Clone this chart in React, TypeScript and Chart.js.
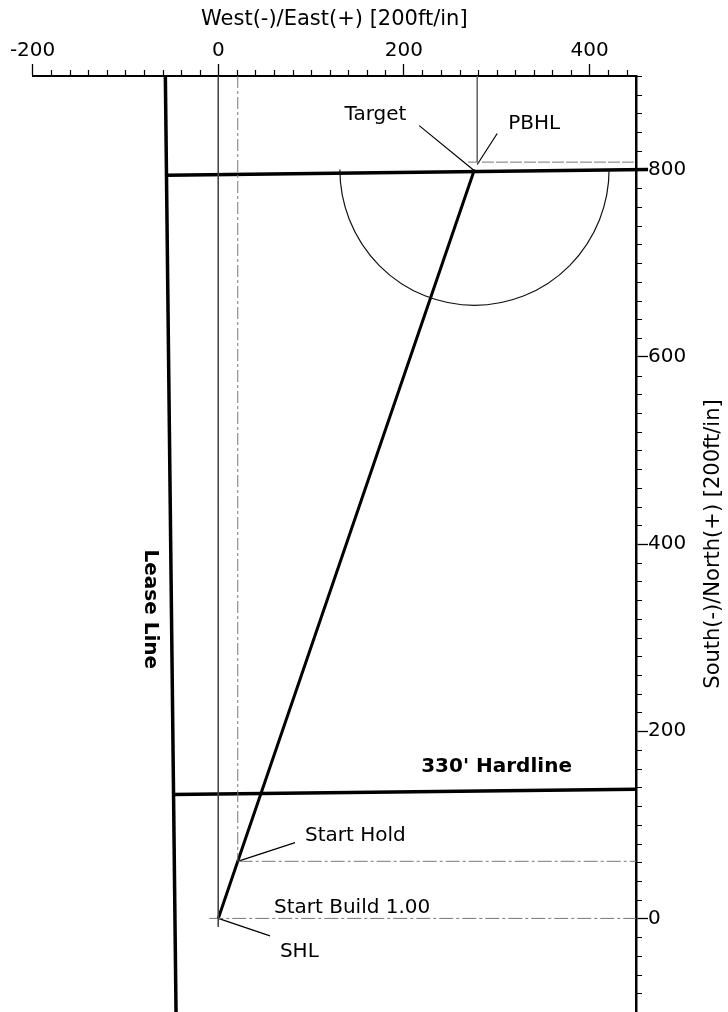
import React, { useEffect, useRef } from "react";
import { Chart, registerables } from "chart.js";

Chart.register(...registerables);

const FONT = "'DejaVu Sans', Verdana, sans-serif";

// Axis ranges and ticks
const X_RANGE = [-200, 450];
const Y_RANGE = [-100, 900];
const MAJOR_STEP = 200;
const MINOR_STEP = 20;
const X_TITLE = "West(-)/East(+) [200ft/in]";
const Y_TITLE = "South(-)/North(+) [200ft/in]";

// Well path (SHL -> Start Hold -> Target)
const wellPath = [
  { x: 0, y: 0 },
  { x: 21, y: 61 },
  { x: 276, y: 800 },
];
// Lease line and hardlines (slightly skewed in the plat)
const leaseLine = [
  { x: -57, y: 900 },
  { x: -45.5, y: -100 },
];
const hardlineTop = [
  { x: -55.6, y: 794 },
  { x: 463, y: 800 },
];
const hardline330 = [
  { x: -48.8, y: 132.3 },
  { x: 450, y: 138 },
];
// Reference lines
const startHoldLine = [
  { x: 22, y: 61 },
  { x: 450, y: 61 },
];
const startBuildLine = [
  { x: -9.7, y: 0 },
  { x: 450, y: 0 },
];
const shlVertical = [
  { x: 0, y: 900 },
  { x: 0, y: -9 },
];
const holdVertical = [
  { x: 21, y: 900 },
  { x: 21, y: 61 },
];
const pbhlVertical = [
  { x: 279, y: 900 },
  { x: 279, y: 808 },
];
const pbhlHorizontal = [
  { x: 269, y: 808 },
  { x: 450, y: 808 },
];
// Leader lines for labels
const targetLeader = [
  { x: 216.5, y: 847 },
  { x: 275.6, y: 799 },
];
const pbhlLeader = [
  { x: 300.5, y: 838.6 },
  { x: 279, y: 805.5 },
];
const holdLeader = [
  { x: 82.7, y: 80.9 },
  { x: 22.6, y: 61.4 },
];
const shlLeader = [
  { x: 0, y: 0 },
  { x: 55.7, y: -18.6 },
];
// Target tolerance half circle
const CIRCLE_CENTER = { x: 276, y: 800 };
const CIRCLE_RADIUS = 145;

// Annotation labels
const labelTexts = ["Target", "PBHL", "330' Hardline", "Start Hold", "Start Build 1.00", "SHL", "Lease Line"];
const labelX = [169.3, 312.3, 299.8, 93.4, 60, 66.4, -73.6];
const labelY = [853, 843.3, 156.7, 82.7, 5.5, -40.8, 330.3];
const labelAlign: CanvasTextAlign[] = ["center", "left", "center", "left", "left", "left", "center"];
const labelBold = [false, false, true, false, false, false, true];
const labelRotated = [false, false, false, false, false, false, true];

function line(data: { x: number; y: number }[], width: number, color: string, dash: number[] = [], clip: any = undefined) {
  const ds: any = {
    data,
    showLine: true,
    borderColor: color,
    borderWidth: width,
    borderDash: dash,
    pointRadius: 0,
    pointHoverRadius: 0,
    fill: false,
    tension: 0,
  };
  if (clip !== undefined) ds.clip = clip;
  return ds;
}

const overlayPlugin = {
  id: "overlay",
  afterDraw(chart: any) {
    const { ctx, chartArea } = chart;
    const xs = chart.scales.x;
    const ys = chart.scales.y;
    ctx.save();

    // minor ticks
    ctx.strokeStyle = "#000";
    ctx.lineWidth = 1.2;
    ctx.beginPath();
    for (let v = X_RANGE[0]; v <= X_RANGE[1]; v += MINOR_STEP) {
      if (v % MAJOR_STEP === 0) continue;
      const px = Math.round(xs.getPixelForValue(v)) + 0.5;
      ctx.moveTo(px, chartArea.top);
      ctx.lineTo(px, chartArea.top - 6);
    }
    for (let v = Y_RANGE[0]; v <= Y_RANGE[1]; v += MINOR_STEP) {
      if (v % MAJOR_STEP === 0) continue;
      const py = Math.round(ys.getPixelForValue(v)) + 0.5;
      ctx.moveTo(chartArea.right, py);
      ctx.lineTo(chartArea.right + 6, py);
    }
    ctx.stroke();

    // half circle
    const cx = xs.getPixelForValue(CIRCLE_CENTER.x);
    const cy = ys.getPixelForValue(CIRCLE_CENTER.y);
    const rx = xs.getPixelForValue(CIRCLE_CENTER.x + CIRCLE_RADIUS) - cx;
    const ry = cy - ys.getPixelForValue(CIRCLE_CENTER.y + CIRCLE_RADIUS);
    ctx.beginPath();
    ctx.ellipse(cx, cy, rx, ry, 0, 0, Math.PI);
    ctx.lineWidth = 1.2;
    ctx.strokeStyle = "#111";
    ctx.stroke();

    // labels
    ctx.fillStyle = "#000";
    for (let i = 0; i < labelTexts.length; i++) {
      const px = xs.getPixelForValue(labelX[i]);
      const py = ys.getPixelForValue(labelY[i]);
      ctx.font = `${labelBold[i] ? "bold " : ""}20px ${FONT}`;
      ctx.textAlign = labelAlign[i];
      if (labelRotated[i]) {
        ctx.save();
        ctx.translate(px, py);
        ctx.rotate(Math.PI / 2);
        ctx.textBaseline = "middle";
        ctx.fillText(labelTexts[i], 0, 0);
        ctx.restore();
      } else {
        ctx.textBaseline = "alphabetic";
        ctx.fillText(labelTexts[i], px, py);
      }
    }

    // axis titles
    ctx.font = `21px ${FONT}`;
    ctx.textAlign = "center";
    ctx.textBaseline = "middle";
    ctx.fillText(X_TITLE, (chartArea.left + chartArea.right) / 2, 20);
    ctx.save();
    ctx.translate(chart.width - 14, (chartArea.top + chartArea.bottom) / 2);
    ctx.rotate(-Math.PI / 2);
    ctx.fillText(Y_TITLE, 0, 0);
    ctx.restore();

    ctx.restore();
  },
};

const tickColor = (c: any) => (c.tick && c.tick.value % MAJOR_STEP === 0 ? "#000" : "rgba(0,0,0,0)");
const tickLabel = (v: any) => (Number(v) % MAJOR_STEP === 0 ? String(Math.abs(Number(v)) < 1e-9 ? 0 : v) : "");

export default function App() {
  const ref = useRef<HTMLCanvasElement>(null);
  useEffect(() => {
    document.body.style.margin = "0";
    const chart = new Chart(ref.current as HTMLCanvasElement, {
      type: "scatter",
      data: {
        datasets: [
          line(shlVertical, 1, "#444"),
          line(holdVertical, 1, "#777", [12, 3, 3, 3]),
          line(pbhlVertical, 1, "#666"),
          line(pbhlHorizontal, 1, "#777", [12, 2]),
          line(startHoldLine, 1, "#777", [14, 3, 3, 3]),
          line(startBuildLine, 1, "#777", [14, 3, 3, 3]),
          line(leaseLine, 3.5, "#000"),
          line(hardlineTop, 3.5, "#000", [], false),
          line(hardline330, 3.5, "#000"),
          line(wellPath, 3, "#000"),
          line(targetLeader, 1.2, "#000"),
          line(pbhlLeader, 1.2, "#000"),
          line(holdLeader, 1.2, "#000"),
          line(shlLeader, 1.2, "#000"),
        ],
      },
      options: {
        animation: false,
        responsive: true,
        maintainAspectRatio: false,
        events: [],
        layout: { padding: { left: 32.6, right: 0, top: 0, bottom: 0 } },
        plugins: { legend: { display: false }, tooltip: { enabled: false }, title: { display: false } },
        scales: {
          x: {
            type: "linear",
            position: "top",
            min: X_RANGE[0],
            max: X_RANGE[1],
            afterFit: (s: any) => {
              s.height = 76;
              s.paddingRight = 0;
            },
            ticks: {
              stepSize: MINOR_STEP,
              autoSkip: false,
              maxRotation: 0,
              color: "#000",
              padding: 1,
              font: { family: FONT, size: 20 },
              callback: tickLabel,
            },
            grid: { drawOnChartArea: false, drawTicks: true, tickLength: 12, tickColor, tickWidth: 1.3 },
            border: { display: true, color: "#000", width: 2 },
          },
          y: {
            type: "linear",
            position: "right",
            min: Y_RANGE[0],
            max: Y_RANGE[1],
            afterFit: (s: any) => {
              s.width = 92;
              s.paddingTop = 0;
              s.paddingBottom = 0;
            },
            ticks: {
              stepSize: MINOR_STEP,
              autoSkip: false,
              color: "#000",
              padding: 0,
              font: { family: FONT, size: 20 },
              callback: tickLabel,
            },
            grid: { drawOnChartArea: false, drawTicks: true, tickLength: 12, tickColor, tickWidth: 1.3 },
            border: { display: true, color: "#000", width: 2.5 },
          },
        },
      } as any,
      plugins: [overlayPlugin],
    });
    return () => chart.destroy();
  }, []);
  return (
    <div style={{ position: "relative", width: 728, height: 1012 }}>
      <canvas ref={ref} />
    </div>
  );
}
